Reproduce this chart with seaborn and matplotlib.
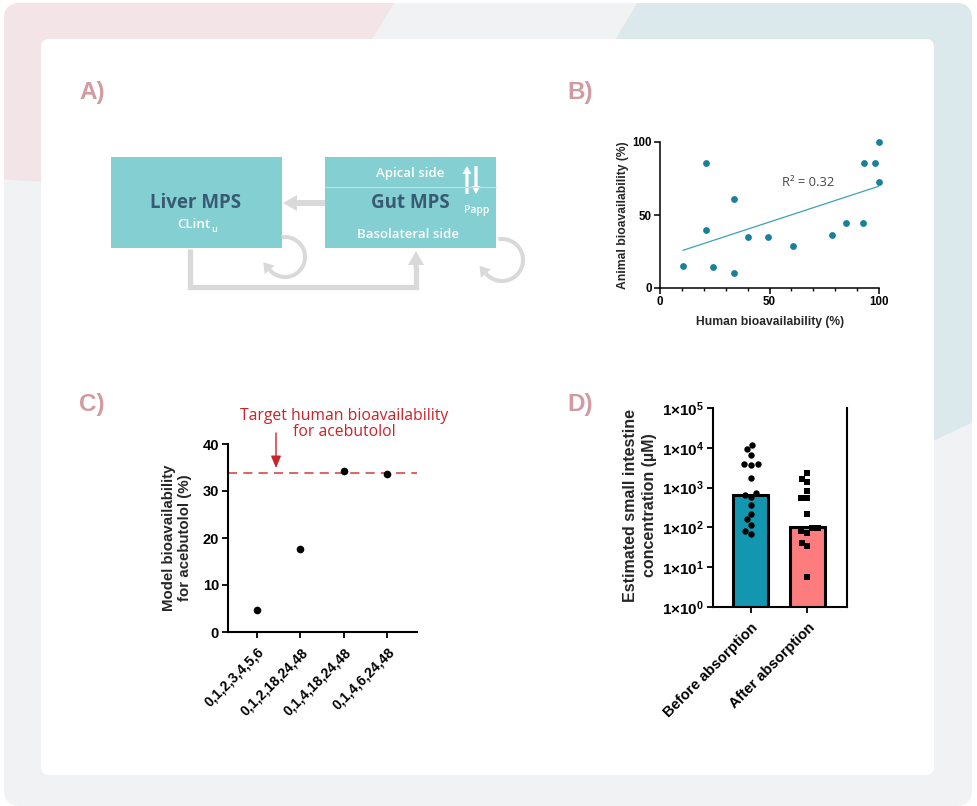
import numpy as np
import pandas as pd
import matplotlib
matplotlib.use("Agg")
import matplotlib.pyplot as plt
import seaborn as sns
from matplotlib.patches import FancyBboxPatch, Polygon, Rectangle, FancyArrow
from matplotlib.ticker import MultipleLocator, NullLocator

# ---------------- data ----------------
# Panel B
human_ba = [10.5, 20.9, 20.9, 24.0, 33.9, 33.8, 40.0, 49.5, 60.9, 78.5, 84.9, 92.7, 93.0, 98.0, 100, 100]
animal_ba = [14.8, 85.9, 39.9, 14.1, 60.8, 10.5, 34.6, 34.9, 28.7, 36.0, 44.4, 44.6, 85.4, 85.4, 100, 72.7]
r2_text = "R² = 0.32"

# Panel C
schedules = ["0,1,2,3,4,5,6", "0,1,2,18,24,48", "0,1,4,18,24,48", "0,1,4,6,24,48"]
model_ba = [4.7, 17.6, 34.2, 33.7]
target_ba = 33.8
target_text = "Target human bioavailability\nfor acebutolol"

# Panel D
groups = ["Before absorption", "After absorption"]
bar_values = [660, 100]
before_conc = [11450, 9080, 6670, 3810, 3810, 3660, 1780, 720, 653, 582, 360, 212, 159, 117, 81, 67]
after_conc = [2370, 1675, 1383, 806, 548, 548, 217, 95, 95, 80, 74, 41, 33.4, 5.6]
decade_ticks = [1, 10, 100, 1000, 10000, 100000]
decade_labels = ["1×10$^{0}$", "1×10$^{1}$", "1×10$^{2}$", "1×10$^{3}$", "1×10$^{4}$", "1×10$^{5}$"]

# ---------------- style ----------------
sns.set_theme(style="ticks")
plt.rcParams["font.family"] = ["Liberation Sans", "DejaVu Sans"]
plt.rcParams["mathtext.fontset"] = "custom"
plt.rcParams["mathtext.rm"] = "Liberation Sans:bold"
plt.rcParams["mathtext.it"] = "Liberation Sans:bold"
plt.rcParams["mathtext.bf"] = "Liberation Sans:bold"
plt.rcParams["axes.edgecolor"] = "black"
plt.rcParams["xtick.color"] = "black"
plt.rcParams["ytick.color"] = "black"

W, H = 977, 806
fig = plt.figure(figsize=(W / 100, H / 100), dpi=100)
fig.patch.set_facecolor("white")

bg = fig.add_axes([0, 0, 1, 1], zorder=0)
bg.set_xlim(0, W)
bg.set_ylim(H, 0)
bg.axis("off")


def px_axes(x0, y0, x1, y1):
    ax = fig.add_axes([x0 / W, 1 - y1 / H, (x1 - x0) / W, (y1 - y0) / H], zorder=2)
    ax.set_facecolor("none")
    return ax


# ---------------- background ----------------
outer = FancyBboxPatch((4, 3), 968, 803, boxstyle="round,pad=0,rounding_size=16",
                       fc="#f1f2f4", ec="none")
bg.add_patch(outer)
pink = Polygon([(0, 0), (396, 0), (372, 39), (45, 182), (0, 179)], closed=True,
               fc="#f2e4e7", ec="none")
bg.add_patch(pink)
pink.set_clip_path(outer)
blue = Polygon([(639, 0), (980, 0), (980, 419), (933, 441), (612, 45)], closed=True,
               fc="#dbe9ed", ec="none")
bg.add_patch(blue)
blue.set_clip_path(outer)
card = FancyBboxPatch((41, 39), 893, 736, boxstyle="round,pad=0,rounding_size=8",
                      fc="white", ec="none")
bg.add_patch(card)

# panel letters
for lab, (x, y) in {"A)": (92, 93), "B)": (580, 93), "C)": (92, 405), "D)": (580, 405)}.items():
    bg.text(x, y, lab, fontsize=17.5, fontweight="bold", color="#d39ba1",
            family=["Liberation Sans Narrow", "Liberation Sans"], ha="center", va="center")

# ---------------- panel A diagram ----------------
box_c = "#83cfd1"
grey = "#d9d9d9"
dark = "#395a74"
bg.add_patch(Rectangle((111, 157), 171, 91, fc=box_c, ec="none"))
bg.add_patch(Rectangle((325, 157), 171, 91, fc=box_c, ec="none"))
bg.plot([325, 496], [187, 187], color="#b4e2e3", lw=0.9)

bg.text(196, 203, "Liver MPS", ha="center", va="center", fontsize=13.5, fontweight="bold",
        color=dark, family=["Open Sans"])
bg.text(210.5, 225, "CLint", ha="right", va="center", fontsize=9.5, fontweight="semibold",
        color="white", family=["Open Sans"])
bg.text(211, 229, "u", ha="left", va="center", fontsize=6.5, fontweight="semibold",
        color="white", family=["Open Sans"])
bg.text(410, 174, "Apical side", ha="center", va="center", fontsize=9.5, fontweight="semibold",
        color="white", family=["Open Sans"])
bg.text(410, 203, "Gut MPS", ha="center", va="center", fontsize=13.5, fontweight="bold",
        color=dark, family=["Open Sans"])
bg.text(408, 234, "Basolateral side", ha="center", va="center", fontsize=9.5, fontweight="semibold",
        color="white", family=["Open Sans"])
bg.text(477, 211, "Papp", ha="center", va="center", fontsize=7.5, fontweight="semibold",
        color="white", family=["Open Sans"])
# up / down arrows
bg.add_patch(FancyArrow(467, 194, 0, -28, width=3.2, head_width=9, head_length=8,
                        length_includes_head=True, fc="white", ec="none"))
bg.add_patch(FancyArrow(476, 166, 0, 28, width=3.2, head_width=9, head_length=8,
                        length_includes_head=True, fc="white", ec="none"))

# gut -> liver arrow
bg.add_patch(FancyArrow(325, 203, -42, 0, width=6, head_width=16, head_length=14,
                        length_includes_head=True, fc=grey, ec="none"))
# loop liver -> gut
bg.plot([190, 190, 416, 416], [249, 287, 287, 266], color=grey, lw=3.8,
        solid_joinstyle="miter", solid_capstyle="butt")
bg.add_patch(FancyArrow(416, 268, 0, -17, width=5, head_width=16, head_length=14,
                        length_includes_head=True, fc=grey, ec="none"))


def loop_arrow(cx, cy, r):
    th = np.radians(np.linspace(100, -140, 80))
    xs = cx + r * np.cos(th)
    ys = cy - r * np.sin(th)
    bg.plot(xs, ys, color=grey, lw=2.9, solid_capstyle="butt")
    te = th[-1]
    base = np.array([xs[-1], ys[-1]])
    d = np.array([r * np.sin(te), r * np.cos(te)])
    d = d / np.linalg.norm(d)
    perp = np.array([-d[1], d[0]])
    tip = base + d * 10
    bg.add_patch(Polygon([tip, base + perp * 6.5, base - perp * 6.5], closed=True,
                         fc=grey, ec="none"))


loop_arrow(285, 257, 20)
loop_arrow(502, 260, 21)

# ---------------- panel B ----------------
axB = px_axes(660, 142, 879, 288)
sns.regplot(x=human_ba, y=animal_ba, ax=axB, scatter=False, ci=None, truncate=True,
            line_kws=dict(color="#3ca2b6", lw=0.9))
sns.scatterplot(x=human_ba, y=animal_ba, ax=axB, color="#17819b", s=24, linewidth=0,
                clip_on=False, zorder=3)
axB.set_xlim(0, 100)
axB.set_ylim(0, 100)
axB.set_xticks([0, 50, 100])
axB.set_yticks([0, 50, 100])
axB.xaxis.set_minor_locator(MultipleLocator(10))
sns.despine(ax=axB)
for s in ["left", "bottom"]:
    axB.spines[s].set_linewidth(1.1)
axB.tick_params(which="major", length=4, width=1.1, labelsize=8.3, pad=2)
axB.tick_params(which="minor", length=2.5, width=1.0)
plt.setp(axB.get_xticklabels() + axB.get_yticklabels(), fontweight="bold")
axB.set_xlabel("Human bioavailability (%)", fontsize=8.7, fontweight="bold")
axB.set_ylabel("Animal bioavailability (%)", fontsize=8.7, fontweight="bold")
axB.xaxis.set_label_coords((770 - 660) / 219, (288 - 322) / 146)
axB.xaxis.label.set_va("center")
axB.yaxis.set_label_coords((623 - 660) / 219, 0.5)
axB.yaxis.label.set_va("center")
bg.text(808, 182, r2_text, ha="center", va="center", fontsize=9.3, color="#454545",
        family=["Open Sans"])

# ---------------- panel C ----------------
axC = px_axes(228, 444, 417, 632)
dfC = pd.DataFrame({"schedule": schedules, "ba": model_ba})
sns.stripplot(data=dfC, x="schedule", y="ba", ax=axC, jitter=False, color="black",
              size=5.5, linewidth=0, zorder=3, clip_on=False)
axC.axhline(target_ba, color="#d23a3a", lw=1.1, ls=(0, (6, 4)), zorder=2)
axC.set_xlim(-0.67, 3.69)
axC.set_ylim(0, 40)
axC.set_yticks([0, 10, 20, 30, 40])
sns.despine(ax=axC)
for s in ["left", "bottom"]:
    axC.spines[s].set_linewidth(1.5)
axC.tick_params(which="major", length=4.5, width=1.3, labelsize=10.5, pad=2)
axC.tick_params(axis="x", pad=5)
axC.set_xlabel("")
axC.set_ylabel("Model bioavailability\nfor acebutolol (%)", fontsize=10.8, fontweight="bold",
               linespacing=1.15)
axC.yaxis.set_label_coords((177 - 228) / 189, 0.5)
axC.yaxis.label.set_va("center")
plt.setp(axC.get_yticklabels(), fontweight="bold")
plt.setp(axC.get_xticklabels(), fontweight="bold", fontsize=10, rotation=45, ha="right",
         rotation_mode="anchor")
bg.annotate("", xy=(276, 468), xytext=(276, 433),
            arrowprops=dict(arrowstyle="-|>,head_length=0.6,head_width=0.25", color="#cc2229",
                            lw=1.0, shrinkA=0, shrinkB=0, mutation_scale=12))
bg.text(344, 424, target_text, ha="center", va="center", color="#cc2229", fontsize=11.3,
        family=["Open Sans"], linespacing=1.05)

# ---------------- panel D ----------------
axD = px_axes(713, 408, 847, 607)
axD.set_yscale("log")
axD.set_ylim(1, 1e5)
sns.barplot(x=groups, y=bar_values, hue=groups, palette=["#1396b0", "#fd7c7e"], legend=False,
            saturation=1, ax=axD, width=0.62, edgecolor="black", linewidth=2.2, errorbar=None,
            zorder=1)
dfB = pd.DataFrame({"group": groups[0], "conc": before_conc})
dfA = pd.DataFrame({"group": groups[1], "conc": after_conc})
sns.swarmplot(data=dfB, x="group", y="conc", order=groups, ax=axD, color="black", marker="o",
              size=4.6, linewidth=0, zorder=3)
sns.swarmplot(data=dfA, x="group", y="conc", order=groups, ax=axD, color="black", marker="s",
              size=4.3, linewidth=0, zorder=3)
axD.set_xlim(-0.67, 1.70)
axD.set_ylim(1, 1e5)
axD.set_yticks(decade_ticks)
axD.set_yticklabels(decade_labels)
axD.yaxis.set_minor_locator(NullLocator())
axD.spines["top"].set_visible(False)
for s in ["left", "bottom", "right"]:
    axD.spines[s].set_linewidth(1.5)
axD.tick_params(which="major", length=4.5, width=1.3, labelsize=11, pad=2)
axD.tick_params(axis="x", pad=5)
axD.set_xlabel("")
axD.set_ylabel("Estimated small intestine\nconcentration (µM)", fontsize=11.5, fontweight="bold",
               linespacing=1.3)
axD.yaxis.set_label_coords((640 - 713) / 134, 0.51)
axD.yaxis.label.set_va("center")
plt.setp(axD.get_yticklabels(), fontweight="bold")
plt.setp(axD.get_xticklabels(), fontweight="bold", fontsize=10.5, rotation=45, ha="right",
         rotation_mode="anchor")

fig.savefig("out.png", dpi=100)
